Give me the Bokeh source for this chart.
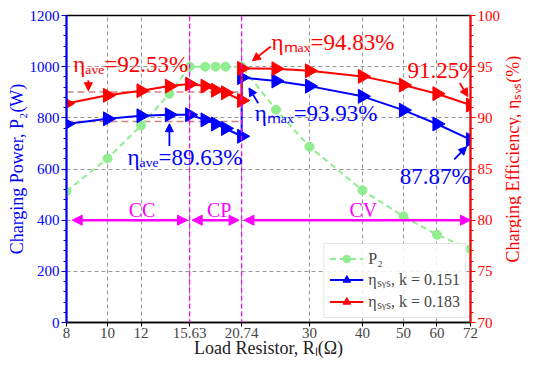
import math
from bokeh.plotting import figure
from bokeh.layouts import row
from bokeh.core.properties import value
from bokeh.models import (Range1d, LinearAxis, FixedTicker, Span, Arrow, NormalHead,
                          Label, Legend, LegendItem)
from bokeh.embed import file_html
from bokeh.resources import INLINE

# ---- data ----
x_ticks = [8, 10, 12, 15.63, 20.74, 30, 40, 50, 60, 72]
x_p2 = [8, 10, 12, 14, 15.63, 17, 18, 19, 20.74, 25, 30, 40, 50, 60, 72]
p2 = [513, 641, 770, 894, 1000, 1000, 1000, 1000, 1000, 832, 687, 517, 415, 343, 287]
x_eta = [8, 10, 12, 14, 15.63, 17, 18, 19, 20.74, 20.74, 25, 30, 40, 50, 60, 72]
eta_151 = [89.4, 89.9, 90.2, 90.3, 90.3, 89.8, 89.4, 88.96, 88.2,
           93.93, 93.6, 93.1, 92.1, 90.75, 89.4, 87.87]
eta_183 = [91.4, 92.2, 92.65, 93.1, 93.3, 93.1, 92.7, 92.45, 91.7,
           94.83, 94.8, 94.6, 94.05, 93.2, 92.36, 91.25]
eta_ave_151 = 89.63
eta_ave_183 = 92.53
bounds = [8, 15.63, 20.74, 72]
modes = ["CC", "CP", "CV"]
y2_title = "Charging Efficiency, ηₛᵧₛ(%)"

SERIF = "'Liberation Serif', serif"
BLUE = "#0000ff"
RED = "#ff0000"
GREEN = "#90ee90"
MAG = "#ff00ff"

W, H = 503, 360
p = figure(width=W, height=H, x_axis_type="log",
           x_range=Range1d(8, 72), y_range=Range1d(0, 1200),
           output_backend="svg", toolbar_location=None,
           min_border_left=66, min_border_right=31, min_border_top=15, min_border_bottom=38)
p.extra_y_ranges = {"eff": Range1d(70, 100)}
p.background_fill_color = "white"
p.border_fill_color = "white"
p.outline_line_color = "black"
p.outline_line_width = 1.5

# x axis
xa = p.xaxis[0]
xa.ticker = FixedTicker(ticks=x_ticks, minor_ticks=[])
xa.major_label_overrides = {t: (str(t)) for t in x_ticks}
xa.axis_label = "Load Resistor, Rₗ(Ω)"
xa.axis_label_text_font = SERIF
xa.axis_label_text_font_style = "normal"
xa.axis_label_text_font_size = "18px"
xa.axis_label_text_color = "#222222"
xa.major_label_text_font = SERIF
xa.major_label_text_font_size = "15px"
xa.axis_line_width = 1.5
xa.major_tick_in = 0
xa.major_tick_out = 4
xa.axis_label_standoff = -3
xa.major_label_standoff = 1

# left axis
ya = p.yaxis[0]
ya.ticker = FixedTicker(ticks=list(range(0, 1201, 200)),
                        minor_ticks=[v for v in range(0, 1201, 40) if v % 200])
ya.axis_label = "Charging Power, P₂(W)"
ya.axis_label_text_color = BLUE
ya.axis_label_text_font = SERIF
ya.axis_label_text_font_style = "normal"
ya.axis_label_text_font_size = "18px"
ya.major_label_text_font = SERIF
ya.major_label_text_font_size = "15px"
ya.major_label_text_color = BLUE
ya.axis_line_color = BLUE
ya.axis_line_width = 2
ya.major_tick_line_color = BLUE
ya.minor_tick_line_color = BLUE
ya.major_tick_in = 0
ya.major_tick_out = 5
ya.minor_tick_in = 0
ya.minor_tick_out = 3
ya.axis_label_standoff = 0
ya.major_label_standoff = 2

# right axis (ticks only; its title is drawn in the strip beside the plot)
ra = LinearAxis(y_range_name="eff",
                ticker=FixedTicker(ticks=list(range(70, 101, 5)),
                                   minor_ticks=[v for v in range(70, 101) if v % 5]))
ra.major_label_text_font = SERIF
ra.major_label_text_font_size = "15px"
ra.major_label_text_color = RED
ra.axis_line_color = RED
ra.axis_line_width = 2
ra.major_tick_line_color = RED
ra.minor_tick_line_color = RED
ra.major_tick_in = 0
ra.major_tick_out = 5
ra.minor_tick_in = 0
ra.minor_tick_out = 3
ra.major_label_standoff = 2
p.add_layout(ra, "right")

for g in (p.xgrid[0], p.ygrid[0]):
    g.grid_line_color = "#8c8c8c"
    g.grid_line_dash = "4 3"
    g.grid_line_width = 0.9

# mode boundaries
for b in bounds[1:3]:
    p.add_layout(Span(location=b, dimension="height", line_color=MAG,
                      line_dash="5 3", line_width=1.2))

# average lines
p.line([bounds[0], bounds[2]], [eta_ave_183] * 2, y_range_name="eff",
       line_color="#c87878", line_dash="7 4", line_width=1.5, line_alpha=0.9)
p.line([bounds[0], bounds[2]], [eta_ave_151] * 2, y_range_name="eff",
       line_color="#c87878", line_dash="7 4", line_width=1.5, line_alpha=0.9)

# P2
g_line = p.line(x_p2, p2, line_color=GREEN, line_dash="6 4", line_width=2)
g_pts = p.scatter(x_p2, p2, marker="circle", size=9, fill_color=GREEN, line_color=GREEN)

# efficiencies
b_line = p.line(x_eta, eta_151, y_range_name="eff", line_color=BLUE, line_width=2)
b_pts = p.scatter(x_eta, eta_151, y_range_name="eff", marker="triangle", size=14,
                  angle=-90, angle_units="deg", fill_color=BLUE, line_color=BLUE)
r_line = p.line(x_eta, eta_183, y_range_name="eff", line_color=RED, line_width=2)
r_pts = p.scatter(x_eta, eta_183, y_range_name="eff", marker="triangle", size=14,
                  angle=-90, angle_units="deg", fill_color=RED, line_color=RED)

# mode arrows
arrow_y = 400
gaps = [(8.25, 15.45), (15.85, 20.45), (21.0, 72)]
label_x = [12.06, 18.36, 40.2]
for (xs, xe), m, lx in zip(gaps, modes, label_x):
    p.add_layout(Arrow(x_start=xs, y_start=arrow_y, x_end=xe, y_end=arrow_y,
                       line_color=MAG, line_width=2.5,
                       start=NormalHead(size=10, fill_color=MAG, line_color=MAG),
                       end=NormalHead(size=10, fill_color=MAG, line_color=MAG)))
    p.add_layout(Label(x=lx, y=440, text=m, text_color=MAG, text_font=SERIF,
                       text_font_size="20px", text_align="center", text_baseline="middle"))

# annotations
ann = [
    ("ηₐᵥₑ=92.53%", RED, 8.30, 1008, 9.01, 947, 9.01, 906),
    ("ηₐᵥₑ=89.63%", BLUE, 11.15, 645, 14.0, 690, 14.0, 777),
    ("ηₘₐₓ=94.83%", RED, 24.4, 1094, 24.3, 1079, 22.0, 1023),
    ("ηₘₐₓ=93.93%", BLUE, 22.26, 815, 22.7, 857, 21.58, 917),
    ("91.25%", RED, 51.1, 985, 67.9, 936, 71.0, 883),
    ("87.87%", BLUE, 49.0, 570, 65.9, 638, 70.5, 687),
]
for txt, col, tx, ty, xs, ys, xe, ye in ann:
    p.add_layout(Label(x=tx, y=ty, text=txt, text_color=col, text_font=SERIF,
                       text_font_size="23px", text_baseline="middle"))
    p.add_layout(Arrow(x_start=xs, y_start=ys, x_end=xe, y_end=ye,
                       line_color=col, line_width=1.8,
                       end=NormalHead(size=8, fill_color=col, line_color=col)))

legend = Legend(items=[
    LegendItem(label="P₂", renderers=[g_line, g_pts]),
    LegendItem(label="ηₛᵧₛ, k = 0.151", renderers=[b_line, b_pts]),
    LegendItem(label="ηₛᵧₛ, k = 0.183", renderers=[r_line, r_pts]),
], location="bottom_right")
legend.label_text_font = SERIF
legend.label_text_font_size = "16px"
legend.border_line_color = "#cccccc"
legend.background_fill_alpha = 0.85
legend.glyph_width = 34
legend.spacing = 0
legend.padding = 5
legend.margin = 4
legend.label_height = 19
legend.glyph_height = 19
p.add_layout(legend)

# strip holding the right-hand axis title, reading bottom to top
SW = 18
strip = figure(width=SW, height=H, x_range=Range1d(0, SW), y_range=Range1d(0, H),
               output_backend="svg", toolbar_location=None, min_border=0,
               x_axis_location=None, y_axis_location=None)
strip.outline_line_color = None
strip.grid.visible = False
strip.background_fill_color = "white"
strip.border_fill_color = "white"
strip.text(x=[SW / 2], y=[H - (15 + (H - 15 - 38) / 2)], text=[y2_title],
           angle=math.pi / 2, text_align="center", text_baseline="middle",
           text_font=value(SERIF), text_font_size="18px", text_color=RED)

layout = row(p, strip)
open("out.html", "w").write(file_html(layout, INLINE))
